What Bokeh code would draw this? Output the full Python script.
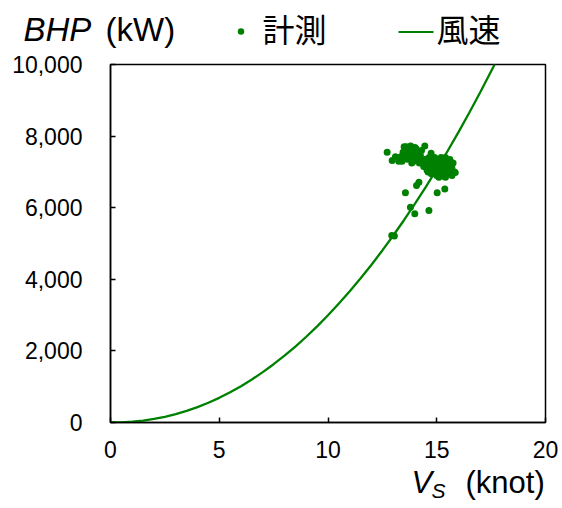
from bokeh.plotting import figure
from bokeh.layouts import column
from bokeh.models import Range1d, FixedTicker, NumeralTickFormatter
from bokeh.core.properties import value
from bokeh.embed import file_html
from bokeh.resources import INLINE

# ---- data ----
curve_vs = [0, 0.5, 1, 1.5, 2, 2.5, 3, 3.5, 4, 4.5, 5, 5.5, 6, 6.5, 7, 7.5, 8,
            8.5, 9, 9.5, 10, 10.5, 11, 11.5, 12, 12.5, 13, 13.5, 14, 14.5, 15,
            15.5, 16, 16.5, 17, 17.66]
curve_bhp = [0, 5, 23, 54, 99, 159, 233, 324, 429, 551, 689, 843, 1015, 1202,
             1406, 1628, 1866, 2122, 2395, 2686, 2995, 3322, 3666, 4028, 4408,
             4806, 5223, 5657, 6112, 6584, 7075, 7584, 8112, 8658, 9224, 10000]

meas_vs = [12.72, 12.95, 13.1, 14.45, 14.74, 14.18, 14.07, 13.56, 15.02, 15.37,
           13.79, 13.99, 14.64, 12.93, 13.05,
           13.4, 13.5, 13.55, 13.6, 13.7, 13.75, 13.8, 13.85, 13.9, 13.95, 14.0,
           14.05, 14.1, 14.15, 14.2, 14.25, 14.3, 13.65, 13.45, 13.35, 13.25,
           13.5, 13.65, 13.85, 14.0,
           14.3, 14.4, 14.5, 14.55, 14.6, 14.65, 14.7, 14.75, 14.8, 14.85, 14.9,
           14.95, 15.0, 15.0, 15.05, 15.1, 15.1, 15.15, 15.2, 15.25, 15.3, 15.3,
           15.35, 15.4, 15.45, 15.5, 15.5, 15.55, 15.6, 15.65, 15.7, 15.8, 15.85,
           15.2, 14.9, 15.4, 15.0, 14.95, 15.4, 15.6, 15.75, 14.45, 14.6, 15.15,
           15.45, 15.7, 14.8, 15.25]
meas_bhp = [7550, 7320, 7420, 7720, 7520, 6710, 6620, 6420, 6420, 6520,
            6010, 5830, 5920, 5220, 5210,
            7300, 7450, 7600, 7700, 7650, 7500, 7720, 7400, 7600, 7300, 7500,
            7650, 7350, 7550, 7250, 7450, 7600, 7350, 7550, 7420, 7300,
            7700, 7550, 7250, 7680,
            7300, 7150, 7350, 7050, 7250, 7400, 7150, 6950, 7300, 7100, 7000,
            7250, 6900, 7150, 7350, 7050, 6850, 7250, 6950, 7150, 7000, 7300,
            6880, 7100, 7250, 6950, 7150, 7050, 7200, 6950, 7100, 7000, 6980,
            7400, 7400, 6850, 7050, 6950, 7400, 7350, 7250, 7250, 7000, 7100,
            7000, 6900, 7200, 6900]

x_ticks = [0, 5, 10, 15, 20]
y_ticks = [0, 2000, 4000, 6000, 8000, 10000]

series_names = ["計測", "風速"]

GREEN = "#008000"
FONT = "Liberation Sans"
CJK = "Noto Sans CJK JP"

W = 560
TOP_H = 52          # header strip (title + legend)
MAIN_H = 414        # main plot: page y 52 .. 466
BOT_H = 42          # footer strip (x title)


def strip(h):
    f = figure(width=W, height=h, output_backend="svg", toolbar_location=None,
               x_range=Range1d(0, W), y_range=Range1d(h, 0),
               x_axis_type=None, y_axis_type=None,
               min_border=0, min_border_left=0, min_border_right=0,
               min_border_top=0, min_border_bottom=0)
    f.outline_line_color = None
    f.grid.visible = False
    if "frame_align" in f.properties():
        f.frame_align = False
    return f


# ---------------- header strip ----------------
top = strip(TOP_H)
top.text(x=[23], y=[29], text=["BHP"], text_font=value(FONT),
         text_font_size="33px", text_font_style="italic",
         text_baseline="alphabetic", text_align="left", text_color="black")
top.text(x=[105], y=[29], text=["(kW)"], text_font=value(FONT),
         text_font_size="33px", text_baseline="alphabetic",
         text_align="left", text_color="black")
# legend keys
top.scatter(x=[240.5], y=[31], size=6.5, fill_color=GREEN, line_color=GREEN,
            line_width=0)
top.line(x=[398, 433], y=[31.5, 31.5], line_color=GREEN, line_width=2.2)
top.text(x=[262, 436], y=[27, 27], text=series_names, text_font=value(CJK),
         text_font_size="32px", text_baseline="middle", text_align="left",
         text_color="black")

# ---------------- main plot ----------------
p = figure(width=W, height=MAIN_H, output_backend="svg", toolbar_location=None,
           x_range=Range1d(0, 20), y_range=Range1d(0, 10000),
           min_border_left=110, min_border_right=W - 545, min_border_top=12,
           min_border_bottom=44)
if "frame_align" in p.properties():
    p.frame_align = False
p.background_fill_color = "white"
p.border_fill_color = "white"
p.outline_line_color = "black"
p.outline_line_width = 1.5
p.grid.visible = False

for ax in (p.xaxis[0], p.yaxis[0]):
    ax.axis_line_color = "black"
    ax.axis_line_width = 1.5
    ax.major_tick_in = 5
    ax.major_tick_out = 0
    ax.major_tick_line_color = "black"
    ax.major_tick_line_width = 1.5
    ax.minor_tick_line_color = None
    ax.major_label_text_font = FONT
    ax.major_label_text_font_size = "23px"
    ax.major_label_text_color = "black"
p.xaxis[0].ticker = FixedTicker(ticks=x_ticks)
p.yaxis[0].ticker = FixedTicker(ticks=y_ticks)
p.yaxis[0].formatter = NumeralTickFormatter(format="0,0")
p.xaxis[0].major_label_standoff = 18
p.yaxis[0].major_label_standoff = 28

p.line(curve_vs, curve_bhp, line_color=GREEN, line_width=2.3)
p.scatter(meas_vs, meas_bhp, size=7, fill_color=GREEN, line_color=GREEN,
          line_width=0)

# ---------------- footer strip ----------------
bot = strip(BOT_H)
bot.text(x=[411], y=[16], text=["V"], text_font=value(FONT),
         text_font_size="31px", text_font_style="italic",
         text_baseline="alphabetic", text_align="left", text_color="black")
bot.text(x=[431], y=[24], text=["S"], text_font=value(FONT),
         text_font_size="21px", text_font_style="italic",
         text_baseline="alphabetic", text_align="left", text_color="black")
bot.text(x=[465], y=[16], text=["(knot)"], text_font=value(FONT),
         text_font_size="31px", text_baseline="alphabetic",
         text_align="left", text_color="black")

layout = column(top, p, bot, spacing=0)
open("out.html", "w").write(file_html(layout, INLINE))
